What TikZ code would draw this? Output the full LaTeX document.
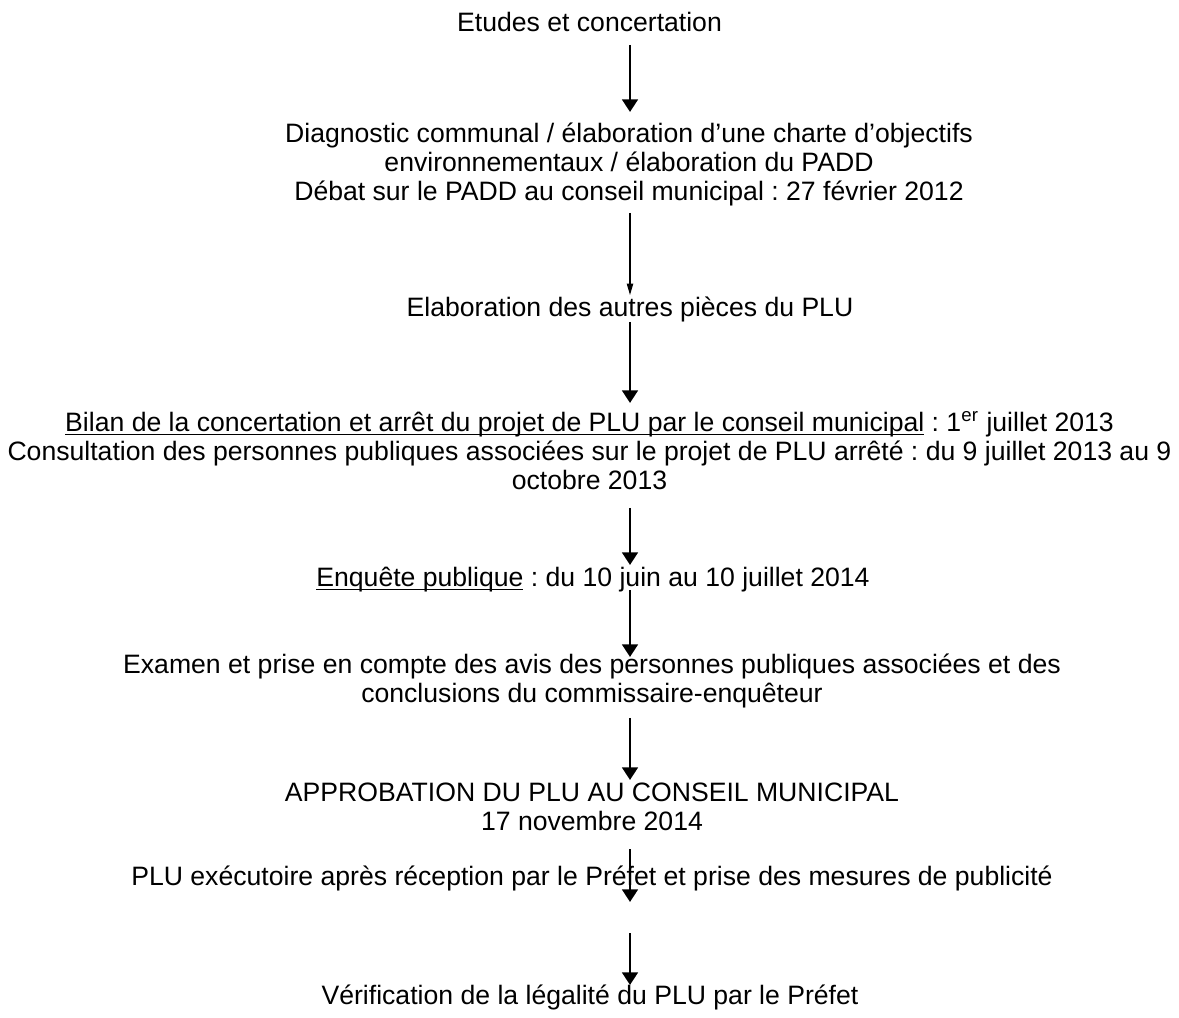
\documentclass[tikz,border=0pt]{standalone}
\usepackage{fontspec}
\setmainfont{Liberation Sans}
\usepackage{tikz}
\usetikzlibrary{calc,arrows.meta}
\newcommand{\souligne}[1]{\setbox0=\hbox{#1}\rlap{\rule[-1.4pt]{\wd0}{0.6pt}}\box0\relax}

\begin{document}
\begin{tikzpicture}[x=0.436pt,y=-0.436pt, font=\fontsize{11.6pt}{12.65pt}\selectfont\frenchspacing,
    etape/.style={align=center, inner sep=0pt, text=black},
    fleche/.style={-{Triangle[length=5.5pt,width=6.8pt]}, line width=1.2pt},
    flechefine/.style={-{Triangle[length=5pt,width=2.8pt]}, line width=0.45pt}]
  \useasboundingbox (0,0) rectangle (1179,1018);
  \coordinate (axe) at (630,0);
  \node[etape] (n1) at (589.5,22) {Etudes et concertation};
  \node[etape] (n2) at (629,164) {Diagnostic communal / élaboration d’une charte d’objectifs\\environnementaux / élaboration du PADD\\Débat sur le PADD au conseil municipal : 27 février 2012};
  \node[etape] (n3) at (630,309) {Elaboration des autres pièces du PLU};
  \node[etape] (n4) at (589.5,451) {\souligne{Bilan de la concertation et arrêt du projet de PLU par le conseil municipal} : 1\textsuperscript{er} juillet 2013\\Consultation des personnes publiques associées sur le projet de PLU arrêté : du 9 juillet 2013 au 9\\octobre 2013};
  \node[etape] (n5) at (593,580) {\souligne{Enquête publique} : du 10 juin au 10 juillet 2014};
  \node[etape] (n6) at (592,681) {Examen et prise en compte des avis des personnes publiques associées et des\\conclusions du commissaire-enquêteur};
  \node[etape] (n7) at (592,807) {APPROBATION DU PLU AU CONSEIL MUNICIPAL\\17 novembre 2014};
  \node[etape] (n8) at (592,878) {PLU exécutoire après réception par le Préfet et prise des mesures de publicité};
  \node[etape] (n9) at (590,997) {Vérification de la légalité du PLU par le Préfet};
  % fleches entre les etapes
  \draw[fleche] ($(n1 -| axe)+(0,23)$) -- ($(n2 -| axe)+(0,-52)$);
  \draw[flechefine] ($(n2 -| axe)+(0,49)$) -- ($(n3 -| axe)+(0,-14)$);
  \draw[fleche] ($(n3 -| axe)+(0,13)$) -- ($(n4 -| axe)+(0,-48)$);
  \draw[fleche] ($(n4 -| axe)+(0,57)$) -- ($(n5 -| axe)+(0,-15)$);
  \draw[fleche] ($(n5 -| axe)+(0,10)$) -- ($(n6 -| axe)+(0,-24)$);
  \draw[fleche] ($(n6 -| axe)+(0,37)$) -- ($(n7 -| axe)+(0,-27)$);
  \draw[fleche] ($(n7 -| axe)+(0,42)$) -- ($(n8 -| axe)+(0,24)$);
  \draw[fleche] ($(n8 -| axe)+(0,55)$) -- ($(n9 -| axe)+(0,-12)$);
\end{tikzpicture}
\end{document}
